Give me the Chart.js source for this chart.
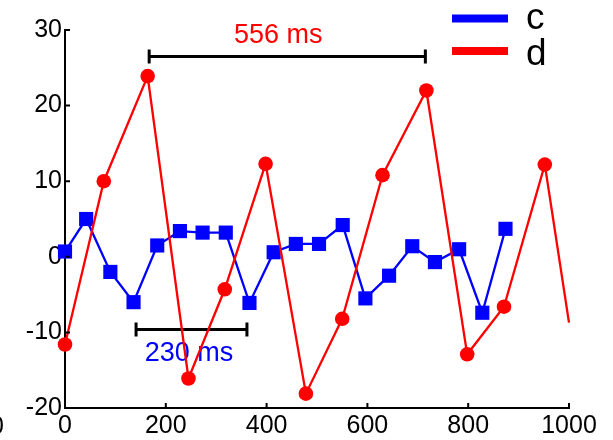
<!DOCTYPE html>
<html>
<head>
<meta charset="utf-8">
<script src="https://cdn.jsdelivr.net/npm/chart.js@4.4.1/dist/chart.umd.min.js"></script>
<style>
  body { margin: 0; background: #fff; }
  #wrap { width: 613px; height: 440px; }
</style>
</head>
<body>
<div id="wrap"><canvas id="chart"></canvas></div>
<script>
// series c (blue squares)
const cTimes = [0, 42, 90, 136, 183, 228, 273, 319, 366, 414, 458, 504, 551, 596, 643, 689, 734, 782, 828, 874];
const cValues = [0.7, 5.0, -2.0, -6.0, 1.5, 3.4, 3.2, 3.2, -6.1, 0.6, 1.7, 1.7, 4.2, -5.5, -2.5, 1.4, -0.7, 1.0, -7.4, 3.7];
// series d (red circles), last one is where the line leaves the axis
const dTimes = [0, 77, 164, 245, 317, 398, 478, 550, 630, 717, 798, 871, 952, 1000];
const dValues = [-11.6, 10.0, 23.9, -16.1, -4.3, 12.3, -18.1, -8.2, 10.8, 22.0, -12.9, -6.6, 12.2, -8.7];
const xTicks = [0, 200, 400, 600, 800, 1000];
const yTicks = [-20, -10, 0, 10, 20, 30];
// period brackets (in data units)
const periodLabels = ["556 ms", "230 ms"];
const periodFrom = [167, 141];
const periodTo = [715, 361];
const periodLevel = [26.5, -9.6];
const periodTextX = [423, 246];
const periodTextY = [28.3, -13.8];
const periodColors = ["#ff0000", "#0000ff"];

Chart.defaults.font.family = "'Liberation Sans', Arial, sans-serif";
Chart.defaults.color = "#000";

const FONT = "25px 'Liberation Sans', Arial, sans-serif";

// brackets go under the lines
const periodPlugin = {
  id: "periods",
  beforeDatasetsDraw(chart) {
    const ctx = chart.ctx;
    const xs = chart.scales.x, ys = chart.scales.y;
    ctx.save();
    periodLabels.forEach(function (txt, i) {
      const x1 = xs.getPixelForValue(periodFrom[i]);
      const x2 = xs.getPixelForValue(periodTo[i]);
      const y = ys.getPixelForValue(periodLevel[i]);
      ctx.strokeStyle = "#000";
      ctx.lineWidth = 3;
      ctx.beginPath();
      ctx.moveTo(x1, y); ctx.lineTo(x2, y);
      ctx.moveTo(x1, y - 7); ctx.lineTo(x1, y + 7);
      ctx.moveTo(x2, y - 7); ctx.lineTo(x2, y + 7);
      ctx.stroke();
      ctx.fillStyle = periodColors[i];
      ctx.font = "27px 'Liberation Sans', Arial, sans-serif";
      ctx.textAlign = "center";
      ctx.textBaseline = "alphabetic";
      ctx.fillText(txt, xs.getPixelForValue(periodTextX[i]), ys.getPixelForValue(periodTextY[i]));
    });
    ctx.restore();
  },
  afterDraw(chart) {
    const ctx = chart.ctx;
    const xs = chart.scales.x, ys = chart.scales.y;
    const area = chart.chartArea;
    ctx.save();
    // inward tick marks
    ctx.strokeStyle = "#000";
    ctx.lineWidth = 2;
    ctx.beginPath();
    xs.ticks.forEach(function (t) {
      const px = xs.getPixelForValue(t.value);
      ctx.moveTo(px, area.bottom); ctx.lineTo(px, area.bottom - 5);
    });
    ys.ticks.forEach(function (t) {
      const py = ys.getPixelForValue(t.value);
      ctx.moveTo(area.left, py); ctx.lineTo(area.left + 5, py);
    });
    ctx.stroke();
    // legend
    const rows = [[18.5, 29], [51, 65]];
    chart.data.datasets.forEach(function (ds, i) {
      ctx.strokeStyle = ds.borderColor;
      ctx.lineWidth = 8;
      ctx.beginPath();
      ctx.moveTo(452, rows[i][0]); ctx.lineTo(508, rows[i][0]);
      ctx.stroke();
      ctx.fillStyle = "#000";
      ctx.font = "37px 'Liberation Sans', Arial, sans-serif";
      ctx.textAlign = "left";
      ctx.textBaseline = "alphabetic";
      ctx.fillText(ds.label, 526, rows[i][1]);
    });
    // stray label cut by the left edge
    ctx.font = FONT;
    ctx.textAlign = "right";
    ctx.fillText("0", 4, 434);
    ctx.restore();
  }
};

const ctx = document.getElementById("chart").getContext("2d");
new Chart(ctx, {
  type: "line",
  data: {
    datasets: [
      {
        label: "c",
        data: cTimes.map((t, i) => ({ x: t, y: cValues[i] })),
        borderColor: "#0000ff",
        backgroundColor: "#0000ff",
        borderWidth: 2.3,
        pointStyle: "rect",
        pointRadius: 10,
        pointBorderWidth: 0,
        clip: false,
        order: 1,
      },
      {
        label: "d",
        data: dTimes.map((t, i) => ({ x: t, y: dValues[i] })),
        borderColor: "#ff0000",
        backgroundColor: "#ff0000",
        borderWidth: 2.3,
        pointStyle: "circle",
        pointRadius: dTimes.map((t, i) => (i === dTimes.length - 1 ? 0 : 7.3)),
        pointBorderWidth: 0,
        clip: false,
        order: 0,
      },
    ],
  },
  options: {
    responsive: true,
    maintainAspectRatio: false,
    animation: false,
    layout: { padding: { top: 30, right: 44, left: 0, bottom: 0 } },
    plugins: {
      legend: { display: false },
      tooltip: { enabled: false },
    },
    scales: {
      x: {
        type: "linear",
        min: 0,
        max: 1000,
        afterBuildTicks: (s) => { s.ticks = xTicks.map((v) => ({ value: v })); },
        afterFit: (s) => { s.height = 32; },
        grid: { display: false, drawTicks: false, tickLength: 0 },
        border: { display: true, color: "#000", width: 2 },
        ticks: { font: { size: 25 }, color: "#000", padding: 3, maxRotation: 0, callback: (v) => String(v) },
      },
      y: {
        type: "linear",
        min: -20,
        max: 30,
        afterBuildTicks: (s) => { s.ticks = yTicks.map((v) => ({ value: v })); },
        afterFit: (s) => { s.width = 65; },
        grid: { display: false, drawTicks: false, tickLength: 0 },
        border: { display: true, color: "#000", width: 2 },
        ticks: { font: { size: 25 }, color: "#000", padding: 3, callback: (v) => String(v) },
      },
    },
  },
  plugins: [periodPlugin],
});
</script>
</body>
</html>
